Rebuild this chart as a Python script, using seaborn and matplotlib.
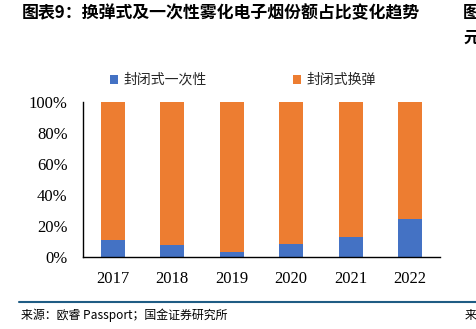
import matplotlib
matplotlib.use("Agg")
import matplotlib.pyplot as plt
import seaborn as sns
import pandas as pd
from matplotlib.patches import Patch
from matplotlib.lines import Line2D

years = ["2017", "2018", "2019", "2020", "2021", "2022"]
disposable = [10.8, 7.5, 3.5, 8.4, 13.0, 24.2]   # 封闭式一次性 %
refill = [100 - v for v in disposable]           # 封闭式换弹 %
yticks = [0, 20, 40, 60, 80, 100]
ytick_labels = ["0%", "20%", "40%", "60%", "80%", "100%"]

sns.set_theme(style="white")
plt.rcParams['font.family'] = ['Noto Sans CJK SC', 'DejaVu Sans']

blue = "#4472C4"
orange = "#ED7D31"

df = pd.DataFrame({"year": years, "disposable": disposable, "refill": refill})
df["total"] = df["disposable"] + df["refill"]

fig = plt.figure(figsize=(4.77, 3.29), dpi=100)
ax = fig.add_axes([83/477, 1-257/329, (440-83)/477, (257-102)/329])

sns.barplot(data=df, x="year", y="total", color=orange, width=0.4, ax=ax,
            saturation=1, edgecolor="none")
sns.barplot(data=df, x="year", y="disposable", color=blue, width=0.4, ax=ax,
            saturation=1, edgecolor="none")

ax.set_xlim(-0.5, 5.5)
ax.set_ylim(0, 100)
ax.set_yticks(yticks)
ax.set_yticklabels(ytick_labels, family="Liberation Serif", fontsize=12)
ax.set_xticks(range(len(years)))
ax.set_xticklabels(years, family="Liberation Serif", fontsize=12)
ax.set_xlabel("")
ax.set_ylabel("")
for s in ["top", "right"]:
    ax.spines[s].set_visible(False)
for s in ["left", "bottom"]:
    ax.spines[s].set_color("black")
    ax.spines[s].set_linewidth(1.0)
ax.tick_params(axis="y", direction="in", length=5, width=1, color="black", pad=11, labelcolor="black")
ax.tick_params(axis="x", which="major", length=0, pad=10, labelcolor="black")
ax.set_xticks([i + 0.5 for i in range(len(years) - 1)], minor=True)
ax.tick_params(axis="x", which="minor", direction="in", length=5, width=1, color="black")
ax.grid(False)

handles = [Patch(facecolor=blue, edgecolor="none"), Patch(facecolor=orange, edgecolor="none")]
fig.legend(handles, ["封闭式一次性", "封闭式换弹"], loc="center", bbox_to_anchor=(243/477, 1-80/329),
           ncol=2, frameon=False, handlelength=0.6, handleheight=0.6,
           handletextpad=0.4, columnspacing=6.2, prop={"family": ["Noto Sans CJK SC"], "size": 10})

fig.text(22/477, 1-13/329, "图表9：换弹式及一次性雾化电子烟份额占比变化趋势", fontsize=12.2,
         fontweight="bold", style="italic", va="center", ha="left", color="black")
fig.text(463/477, 1-13/329, "图", fontsize=12, fontweight="bold", va="center", ha="left", color="black")
fig.text(463/477, 1-38/329, "元", fontsize=12, fontweight="bold", va="center", ha="left", color="black")

fig.add_artist(Line2D([19/477, 1.0], [1-301.5/329, 1-301.5/329], transform=fig.transFigure,
                      color="#1F5C84", linewidth=1.5))
fig.text(21/477, 1-315/329, "来源：欧睿 Passport；国金证券研究所", fontsize=8.6,
         va="center", ha="left", color="black")
fig.text(465/477, 1-315/329, "来", fontsize=8.6, va="center", ha="left", color="black")

fig.savefig("out.png", dpi=100)
